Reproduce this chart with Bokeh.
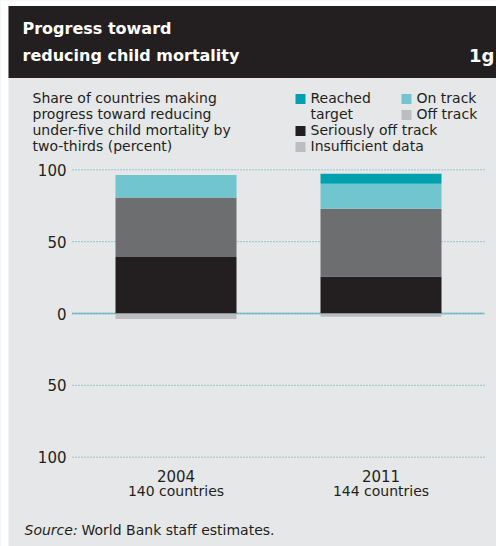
from bokeh.plotting import figure
from bokeh.models import Range1d, ColumnDataSource
from bokeh.core.properties import value
from bokeh.embed import file_html
from bokeh.resources import INLINE

# ---- data ----
years = ["2004", "2011"]
country_counts = ["140 countries", "144 countries"]
seriously_off = [39.3, 25.7]
off_track = [41.4, 47.2]
on_track = [15.7, 17.4]
reached = [0.0, 6.9]
insufficient = [3.8, 2.3]

tick_values = [100, 50, 0, -50, -100]
tick_labels = ["100", "50", "0", "50", "100"]

legend_labels = ["Reached", "On track", "Off track", "Seriously off track", "Insufficient data"]

title_lines = ["Progress toward", "reducing child mortality"]
chart_id = "1g"
subtitle_lines = ["Share of countries making", "progress toward reducing",
                  "under-five child mortality by", "two-thirds (percent)"]
source_note = "World Bank staff estimates."

# ---- colours ----
C_REACHED = "#00a0ae"
C_ON = "#71c5cf"
C_OFF = "#6d6e70"
C_SERIOUS = "#231f20"
C_INSUF = "#bcbdc0"
C_OFF_SWATCH = "#bcbdc0"
BG = "#e6e7e9"
HEADER = "#231f20"
GRID = "#3fa9b5"
TXT = "#231f20"

W, H = 496, 546
PX_PER_CAT = 205.0
ZERO_PY = 313.0
PX_PER_UNIT = 1.437
X0 = -175.5 / PX_PER_CAT
FIX = 6.0  # baseline correction (px)

def X(px):
    return X0 + px / PX_PER_CAT

def Y(py):
    return (ZERO_PY - py) / PX_PER_UNIT

def YB(py):
    return Y(py - FIX)

p = figure(width=W, height=H, output_backend="svg", toolbar_location=None,
           x_range=Range1d(X(0), X(W)), y_range=Range1d(Y(H), Y(0)),
           x_axis_type=None, y_axis_type=None, min_border=0)
p.outline_line_color = None
p.grid.visible = False
p.background_fill_color = BG
p.border_fill_color = "white"

FONT = value("DejaVu Sans")

# white margins and dark header
p.quad(left=[X(0), X(0)], right=[X(W), X(8)], top=[Y(0), Y(0)], bottom=[Y(5.5), Y(H)],
       fill_color="white", line_color=None)
p.quad(left=[X(8)], right=[X(W)], top=[Y(5.5)], bottom=[Y(77.5)],
       fill_color=HEADER, line_color=None)

p.text(x=[X(22), X(22)], y=[YB(33.5), YB(61)], text=title_lines, text_color="white",
       text_font=FONT, text_font_style="bold", text_font_size="16px",
       text_baseline="alphabetic")
p.text(x=[X(494)], y=[YB(61)], text=[chart_id], text_color="white", text_font=FONT,
       text_font_style="bold", text_font_size="18px", text_align="right",
       text_baseline="alphabetic")

# subtitle
p.text(x=[X(32)] * 4, y=[YB(103 + 16 * i) for i in range(4)], text=subtitle_lines,
       text_color=TXT, text_font=FONT, text_font_size="14px", text_baseline="alphabetic")

# legend
sw_x = [295, 401, 401, 295, 295]
sw_y = [93.5, 93.5, 109.5, 125.5, 141.5]
sw_c = [C_REACHED, C_ON, C_OFF_SWATCH, C_SERIOUS, C_INSUF]
p.quad(left=[X(x) for x in sw_x], right=[X(x + 10) for x in sw_x],
       top=[Y(y) for y in sw_y], bottom=[Y(y + 10) for y in sw_y],
       fill_color=sw_c, line_color=None)
p.text(x=[X(310), X(416), X(416), X(310), X(310)],
       y=[YB(103), YB(103), YB(119), YB(135), YB(151)],
       text=legend_labels, text_color=TXT, text_font=FONT, text_font_size="14px",
       text_baseline="alphabetic")
p.text(x=[X(310)], y=[YB(119)], text=["target"], text_color=TXT, text_font=FONT,
       text_font_size="14px", text_baseline="alphabetic")

# gridlines and y labels
p.segment(x0=[X(72)] * len(tick_values), x1=[X(484)] * len(tick_values),
          y0=tick_values, y1=tick_values, line_color=GRID, line_width=1,
          line_dash="1 2")
p.segment(x0=[X(72)], x1=[X(484)], y0=[0], y1=[0], line_color=GRID, line_width=2,
          line_dash="1 1")
p.text(x=[X(66)] * len(tick_values), y=tick_values, text=tick_labels,
       text_color=TXT, text_font=FONT, text_font_size="15px", text_align="right",
       text_baseline="middle")

# bars
src = ColumnDataSource(dict(
    x=list(range(len(years))),
    seriously_off=seriously_off, off_track=off_track, on_track=on_track,
    reached=reached, insuf_neg=[-v for v in insufficient],
))
bar_w = 121 / PX_PER_CAT
p.vbar_stack(["seriously_off", "off_track", "on_track", "reached"], x="x", width=bar_w,
             color=[C_SERIOUS, C_OFF, C_ON, C_REACHED], line_color=None, source=src)
p.vbar(x="x", top=0, bottom="insuf_neg", width=bar_w, color=C_INSUF, line_color=None,
       source=src)

# x labels
xs = list(range(len(years)))
p.text(x=xs, y=[YB(481)] * len(xs), text=years, text_color=TXT, text_font=FONT,
       text_font_size="15px", text_align="center", text_baseline="alphabetic")
p.text(x=xs, y=[YB(496)] * len(xs), text=country_counts, text_color=TXT, text_font=FONT,
       text_font_size="14px", text_align="center", text_baseline="alphabetic")

# source
p.text(x=[X(24)], y=[YB(535)], text=["Source:"], text_color=TXT, text_font=FONT,
       text_font_size="14px", text_font_style="italic", text_baseline="alphabetic")
p.text(x=[X(81)], y=[YB(535)], text=[source_note], text_color=TXT, text_font=FONT,
       text_font_size="14px", text_baseline="alphabetic")

open("out.html", "w").write(file_html(p, INLINE))
